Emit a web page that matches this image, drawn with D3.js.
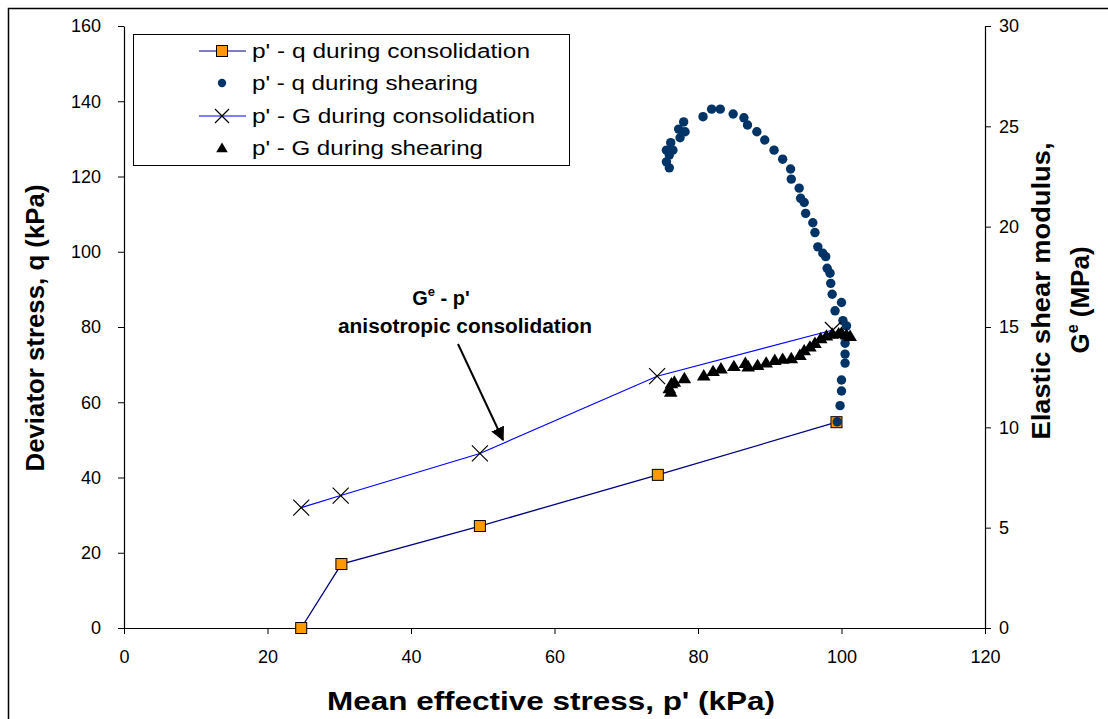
<!DOCTYPE html>
<html>
<head>
<meta charset="utf-8">
<script src="https://cdn.jsdelivr.net/npm/d3@7"></script>
<style>
  body { margin: 0; background: #fff; }
  svg { display: block; font-family: "Liberation Sans", Arial, sans-serif; }
</style>
</head>
<body>
<svg id="chart" width="1108" height="719"></svg>
<script>
// p' - q during consolidation [p', q] (kPa)
const qConsP = [24.7, 30.3, 49.6, 74.4, 99.3];
const qConsQ = [0, 17, 27.1, 40.7, 54.7];

// p' - q during shearing [p', q] (kPa)
const qShearP = [99.4, 99.8, 100.0, 100.0, 100.5, 100.5, 100.5, 100.7, 100.2, 99.1, 100.0, 98.7, 98.5, 98.4,
  98.0, 97.8, 97.4, 96.7, 96.3, 96.0, 95.0, 94.8, 94.3, 94.1, 93.0, 92.9, 91.8, 90.6, 89.3, 88.2, 86.9,
  86.4, 84.9, 83.1, 81.9, 80.7, 78.0, 77.3, 78.2, 77.5, 76.2, 76.5, 75.6, 76.0, 75.6, 76.0];
const qShearQ = [54.8, 59.1, 63.0, 65.9, 70.4, 72.8, 75.7, 80.3, 81.7, 84.3, 86.5, 88.7, 91.6, 94.3,
  95.6, 98.7, 99.6, 101.3, 105.1, 107.7, 110.2, 113.1, 114.2, 116.9, 119.3, 122.0, 124.6, 127.0, 129.7, 131.9, 133.7,
  135.6, 136.6, 137.9, 137.9, 135.9, 134.5, 132.6, 131.9, 130.3, 129.0, 127.0, 127.0, 125.7, 123.9, 122.3];

// p' - G during consolidation [p' (kPa), G (MPa)]
const gConsP = [24.7, 30.2, 49.6, 74.3, 98.8];
const gConsG = [6.0, 6.6, 8.7, 12.55, 14.85];

// p' - G during shearing [p' (kPa), G (MPa)]
const gShearP = [76.0, 76.2, 76.3, 76.7, 78.1, 80.8, 82.1, 83.2, 85.0, 86.6, 87.0, 88.3, 89.5, 90.7,
  91.8, 93.0, 94.2, 94.8, 95.6, 96.3, 97.1, 97.9, 98.7, 99.6, 100.0, 100.7, 101.2];
const gShearG = [11.94, 11.77, 12.19, 12.27, 12.44, 12.58, 12.8, 12.93, 13.05, 13.2, 13.03, 13.1, 13.22, 13.35,
  13.41, 13.44, 13.6, 13.83, 14.02, 14.2, 14.43, 14.57, 14.66, 14.68, 14.71, 14.62, 14.55];

const xTicks = [0, 20, 40, 60, 80, 100, 120];
const yTicks = [0, 20, 40, 60, 80, 100, 120, 140, 160];
const y2Ticks = [0, 5, 10, 15, 20, 25, 30];

const legendLabels = ["p' - q during consolidation", "p' - q during shearing",
  "p' - G during consolidation", "p' - G during shearing"];

const zip = (a, b) => a.map((v, i) => [v, b[i]]);

const svg = d3.select("#chart");
const plot = { left: 124, right: 985, top: 26, bottom: 628 };

const x = d3.scaleLinear().domain([0, 120]).range([plot.left, plot.right]);
const y = d3.scaleLinear().domain([0, 160]).range([plot.bottom, plot.top]);
const y2 = d3.scaleLinear().domain([0, 30]).range([plot.bottom, plot.top]);

// outer frame
svg.append("rect")
  .attr("x", 8.5).attr("y", 8.5).attr("width", 1300).attr("height", 900)
  .attr("fill", "none").attr("stroke", "#000").attr("stroke-width", 1.5);

// axes
const axisStyle = g => {
  g.selectAll("path").attr("stroke", "#000").attr("stroke-width", 1.2);
  g.selectAll("line").attr("stroke", "#000");
  g.selectAll("text").attr("font-size", 18).attr("fill", "#000")
    .attr("font-family", "Liberation Sans, Arial, sans-serif");
};

svg.append("g")
  .attr("transform", `translate(0,${plot.bottom})`)
  .call(d3.axisBottom(x).tickValues(xTicks).tickSize(6).tickPadding(16).tickSizeOuter(0))
  .call(axisStyle);

svg.append("g")
  .attr("transform", `translate(${plot.left},0)`)
  .call(d3.axisLeft(y).tickValues(yTicks).tickSize(6).tickPadding(17).tickSizeOuter(0))
  .call(axisStyle);

svg.append("g")
  .attr("transform", `translate(${plot.right},0)`)
  .call(d3.axisRight(y2).tickValues(y2Ticks).tickSize(6).tickPadding(8).tickSizeOuter(0))
  .call(axisStyle);

// marker helpers
const crossPath = (cx, cy, s) => `M${cx - s},${cy - s}L${cx + s},${cy + s}M${cx - s},${cy + s}L${cx + s},${cy - s}`;
const triPath = (cx, cy, s) => `M${cx},${cy - s}L${cx + s * 1.05},${cy + s * 0.75}L${cx - s * 1.05},${cy + s * 0.75}Z`;

const line = (sx, sy) => d3.line().x(d => sx(d[0])).y(d => sy(d[1]));

// series 1: p'-q consolidation
const s1 = svg.append("g");
s1.append("path").datum(zip(qConsP, qConsQ))
  .attr("d", line(x, y)).attr("fill", "none").attr("stroke", "#000080").attr("stroke-width", 1.3);
s1.selectAll("rect").data(zip(qConsP, qConsQ)).join("rect")
  .attr("x", d => x(d[0]) - 5.5).attr("y", d => y(d[1]) - 5.5)
  .attr("width", 11).attr("height", 11)
  .attr("fill", "#FF9900").attr("stroke", "#000").attr("stroke-width", 1);

// series 2: p'-q shearing
svg.append("g").selectAll("circle").data(zip(qShearP, qShearQ)).join("circle")
  .attr("cx", d => x(d[0])).attr("cy", d => y(d[1])).attr("r", 4.7)
  .attr("fill", "#003366");

// series 3: p'-G consolidation
const s3 = svg.append("g");
s3.append("path").datum(zip(gConsP, gConsG))
  .attr("d", line(x, y2)).attr("fill", "none").attr("stroke", "#0000FF").attr("stroke-width", 1.1);
s3.selectAll(".xm").data(zip(gConsP, gConsG)).join("path")
  .attr("d", d => crossPath(x(d[0]), y2(d[1]), 8))
  .attr("stroke", "#000").attr("stroke-width", 1.2).attr("fill", "none");

// series 4: p'-G shearing
svg.append("g").selectAll("path").data(zip(gShearP, gShearG)).join("path")
  .attr("d", d => triPath(x(d[0]), y2(d[1]), 6.5))
  .attr("fill", "#000");

// legend
const lg = svg.append("g");
lg.append("rect").attr("x", 133.5).attr("y", 34.5).attr("width", 436).attr("height", 131)
  .attr("fill", "#fff").attr("stroke", "#000").attr("stroke-width", 1);
const rowY = [51, 83, 116, 148];
const textLen = [278, 226, 283, 231];
legendLabels.forEach((lab, i) => {
  const cy = rowY[i], mx = 222;
  if (i === 0 || i === 2) {
    lg.append("line").attr("x1", 199).attr("x2", 246).attr("y1", cy).attr("y2", cy)
      .attr("stroke", i === 0 ? "#000080" : "#0000FF").attr("stroke-width", 1.2);
  }
  if (i === 0) lg.append("rect").attr("x", mx - 5.5).attr("y", cy - 5.5).attr("width", 11).attr("height", 11)
    .attr("fill", "#FF9900").attr("stroke", "#000");
  if (i === 1) lg.append("circle").attr("cx", mx).attr("cy", cy).attr("r", 4.2).attr("fill", "#003366");
  if (i === 2) lg.append("path").attr("d", crossPath(mx, cy, 7)).attr("stroke", "#000").attr("stroke-width", 1.2);
  if (i === 3) lg.append("path").attr("d", triPath(mx, cy, 5.5)).attr("fill", "#000");
  lg.append("text").attr("x", 252).attr("y", cy + 7).attr("font-size", 20)
    .attr("textLength", textLen[i]).attr("lengthAdjust", "spacingAndGlyphs")
    .text(lab);
});

// annotation
const ann = svg.append("g").attr("font-weight", "bold").attr("text-anchor", "middle");
const t1 = ann.append("text").attr("x", 441).attr("y", 305).attr("font-size", 20);
t1.append("tspan").text("G");
t1.append("tspan").attr("font-size", 13).attr("dy", -9).text("e");
t1.append("tspan").attr("dy", 9).text(" - p'");
ann.append("text").attr("x", 465).attr("y", 333).attr("font-size", 20)
  .attr("textLength", 254).attr("lengthAdjust", "spacingAndGlyphs")
  .text("anisotropic consolidation");

svg.append("defs").append("marker")
  .attr("id", "arrow").attr("viewBox", "0 0 10 10").attr("refX", 9).attr("refY", 5)
  .attr("markerWidth", 7).attr("markerHeight", 7).attr("orient", "auto")
  .append("path").attr("d", "M0,0L10,5L0,10Z").attr("fill", "#000");
svg.append("line")
  .attr("x1", 458).attr("y1", 344).attr("x2", 503).attr("y2", 440)
  .attr("stroke", "#000").attr("stroke-width", 2).attr("marker-end", "url(#arrow)");

// axis titles
svg.append("text").attr("font-weight", "bold").attr("font-size", 26).attr("text-anchor", "middle")
  .attr("x", 551).attr("y", 710)
  .attr("textLength", 448).attr("lengthAdjust", "spacingAndGlyphs")
  .text("Mean effective stress, p' (kPa)");

svg.append("text").attr("font-weight", "bold").attr("font-size", 26).attr("text-anchor", "middle")
  .attr("transform", "translate(44,328) rotate(-90)")
  .attr("textLength", 287).attr("lengthAdjust", "spacingAndGlyphs")
  .text("Deviator stress, q (kPa)");

const rt = svg.append("g").attr("font-weight", "bold").attr("font-size", 26).attr("text-anchor", "middle");
rt.append("text").attr("transform", "translate(1050,291) rotate(-90)")
  .attr("textLength", 297).attr("lengthAdjust", "spacingAndGlyphs")
  .text("Elastic shear modulus,");
const g2 = rt.append("text").attr("transform", "translate(1089,300) rotate(-90)");
g2.append("tspan").text("G");
g2.append("tspan").attr("font-size", 16).attr("dy", -11).text("e");
g2.append("tspan").attr("dy", 11).text(" (MPa)");
</script>
</body>
</html>
